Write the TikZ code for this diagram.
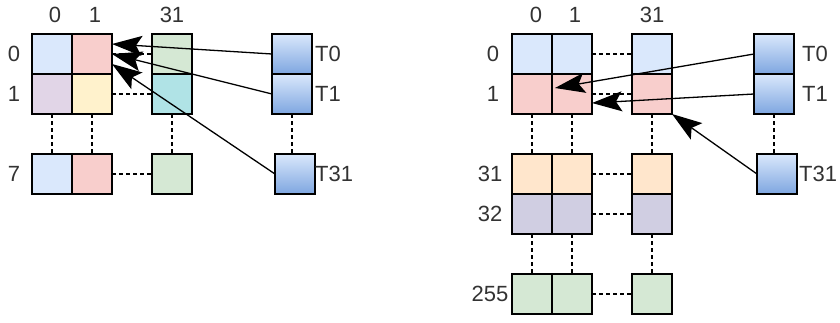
\documentclass[tikz,border=0pt]{standalone}
\usepackage{fontspec}
\setmainfont{Liberation Sans}
\usetikzlibrary{calc,arrows.meta}
\definecolor{cblue}{HTML}{DAE8FC}
\definecolor{cred}{HTML}{F8CECC}
\definecolor{cgreen}{HTML}{D5E8D4}
\definecolor{cpurple}{HTML}{E1D5E7}
\definecolor{cyellow}{HTML}{FFF2CC}
\definecolor{ccyan}{HTML}{B0E3E6}
\definecolor{corange}{HTML}{FFE6CC}
\definecolor{clav}{HTML}{D0CEE2}
\definecolor{tbot}{HTML}{7EA6E0}
\definecolor{txt}{HTML}{333333}
\tikzset{arr/.style={line width=1.3pt, arrows={-Stealth[length=30pt, width=20pt, inset=6pt]}}}
\begin{document}
\begin{tikzpicture}[x=1pt,y=-1pt,
  cell/.style={draw=black, line width=1.5pt, minimum size=40pt, inner sep=0pt, outer sep=0pt},
  thr/.style={cell, top color=cblue, bottom color=tbot},
  dots/.style={line width=1.5pt, dash pattern=on 4pt off 3pt},
  lbl/.style={font=\fontsize{22}{22}\selectfont, text=txt, inner sep=0pt}]
\useasboundingbox (0,0) rectangle (840,322);
% ---------- left ----------
\node[cell, fill=cblue]   (L00) at (52,54) {};
\node[cell, fill=cred]    (L01) at (92,54) {};
\node[cell, fill=cgreen]  (L0x) at (172,54) {};
\node[cell, fill=cpurple] (L10) at (52,94) {};
\node[cell, fill=cyellow] (L11) at (92,94) {};
\node[cell, fill=ccyan]   (L1x) at (172,94) {};
\node[cell, fill=cblue]   (L70) at (52,174) {};
\node[cell, fill=cred]    (L71) at (92,174) {};
\node[cell, fill=cgreen]  (L7x) at (172,174) {};
\node[thr] (LT0) at (292,54) {};
\node[thr] (LT1) at (292,94) {};
\node[thr] (LT31) at (295,174) {};
\draw[dots] (L01.east) -- (L0x.west);
\draw[dots] (L11.east) -- (L1x.west);
\draw[dots] (L71.east) -- (L7x.west);
\draw[dots] (L10.south) -- (L70.north);
\draw[dots] (L11.south) -- (L71.north);
\draw[dots] (L1x.south) -- (L7x.north);
\draw[dots] (LT1.south) -- ($(LT31.north)+(-3,0)$);
\node[lbl] (lc0) at (55,15) {0};
\node[lbl] (lc1) at (95,15) {1};
\node[lbl] (lc31) at (172,15) {31};
\node[lbl] (lr0) at (14,54) {0};
\node[lbl] (lr1) at (14,94) {1};
\node[lbl] (lr7) at (14,174) {7};
\node[lbl, anchor=west] (lt0) at (315,54) {T0};
\node[lbl, anchor=west] (lt1) at (315,94) {T1};
\node[lbl, anchor=west] (lt31) at (315,174) {T31};
\draw[arr] (LT0.west) -- ($(L01.east)+(0,-10)$);
\draw[arr] (LT1.west) -- (L01.east);
\draw[arr] (LT31.west) -- ($(L01.east)+(0,10)$);
% ---------- right ----------
\node[cell, fill=cblue]   (R00) at (532,54) {};
\node[cell, fill=cblue]   (R01) at (572,54) {};
\node[cell, fill=cblue]   (R0x) at (652,54) {};
\node[cell, fill=cred]    (R10) at (532,94) {};
\node[cell, fill=cred]    (R11) at (572,94) {};
\node[cell, fill=cred]    (R1x) at (652,94) {};
\node[cell, fill=corange] (R310) at (532,174) {};
\node[cell, fill=corange] (R311) at (572,174) {};
\node[cell, fill=corange] (R31x) at (652,174) {};
\node[cell, fill=clav]    (R320) at (532,214) {};
\node[cell, fill=clav]    (R321) at (572,214) {};
\node[cell, fill=clav]    (R32x) at (652,214) {};
\node[cell, fill=cgreen]  (R2550) at (532,294) {};
\node[cell, fill=cgreen]  (R2551) at (572,294) {};
\node[cell, fill=cgreen]  (R255x) at (652,294) {};
\node[thr] (RT0) at (774,54) {};
\node[thr] (RT1) at (774,94) {};
\node[thr] (RT31) at (777,174) {};
\draw[dots] (R01.east) -- (R0x.west);
\draw[dots] (R11.east) -- (R1x.west);
\draw[dots] (R311.east) -- (R31x.west);
\draw[dots] (R321.east) -- (R32x.west);
\draw[dots] (R2551.east) -- (R255x.west);
\draw[dots] (R10.south) -- (R310.north);
\draw[dots] (R11.south) -- (R311.north);
\draw[dots] (R1x.south) -- (R31x.north);
\draw[dots] (R320.south) -- (R2550.north);
\draw[dots] (R321.south) -- (R2551.north);
\draw[dots] (R32x.south) -- (R255x.north);
\draw[dots] (RT1.south) -- ($(RT31.north)+(-3,0)$);
\node[lbl] (rc0) at (536,15) {0};
\node[lbl] (rc1) at (575,15) {1};
\node[lbl] (rc31) at (652,15) {31};
\node[lbl] (rr0) at (493,54) {0};
\node[lbl] (rr1) at (493,94) {1};
\node[lbl] (rr31) at (490,174) {31};
\node[lbl] (rr32) at (490,214) {32};
\node[lbl] (rr255) at (490,294) {255};
\node[lbl, anchor=west] (rt0) at (802,54) {T0};
\node[lbl, anchor=west] (rt1) at (802,94) {T1};
\node[lbl, anchor=west] (rt31) at (799,174) {T31};
\draw[arr] (RT0.west) -- ($(R11.center)+(-17,-6)$);
\draw[arr] (RT1.west) -- ($(R11.east)+(0,9)$);
\draw[arr] (RT31.west) -- (R1x.south east);
\end{tikzpicture}
\end{document}
